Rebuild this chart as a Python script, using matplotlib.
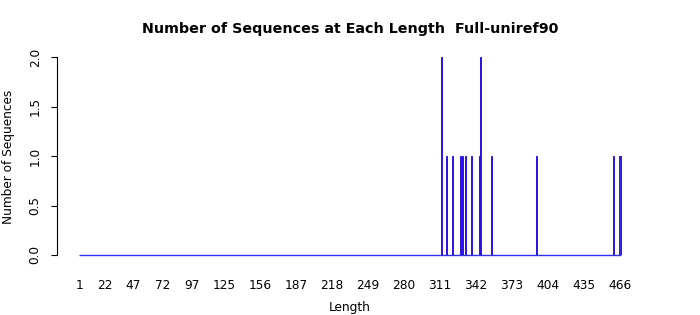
import matplotlib
matplotlib.use('Agg')
import matplotlib.pyplot as plt
import numpy as np

# sequence lengths observed and how many sequences have each length
lengths = [312, 317, 322, 329, 330, 333, 338, 345, 346, 355, 394, 460, 466]
counts = [2, 1, 1, 1, 1, 1, 1, 1, 2, 1, 1, 1, 1]
tick_labels = [1, 22, 47, 72, 97, 125, 156, 187, 218, 249, 280, 311, 342, 373, 404, 435, 466]
len_min, len_max = 1, 466

W, H = 700, 315
fig = plt.figure(figsize=(W / 100, H / 100), dpi=100)

# axes placed in pixels: y axis line at x=57, data 1..466 spans x=80..620
scale = (620 - 80) / (len_max - len_min)
ax_left, ax_right = 57, 643
ax = fig.add_axes([ax_left / W, (H - 255) / H, (ax_right - ax_left) / W, 198 / H])
ax.set_xlim(len_min - (80 - ax_left) / scale, len_max + (ax_right - 620) / scale)
ax.set_ylim(0, 2)

blue = '#2a12e8'
# zero-count bars of the R barplot show up as a blue baseline
ax.hlines(0, len_min - 0.5, len_max + 0.5, color='#3030f0', linewidth=1.0,
          zorder=1, clip_on=False)
ax.bar(lengths, counts, width=0.9, color='#3a2af0', edgecolor=blue,
       linewidth=0.7, zorder=2)

for s in ['top', 'right', 'bottom']:
    ax.spines[s].set_visible(False)
ax.spines['left'].set_bounds(0, 2)
ax.spines['left'].set_linewidth(0.8)

ax.set_yticks([0, 0.5, 1.0, 1.5, 2.0])
ax.set_yticklabels(['0.0', '0.5', '1.0', '1.5', '2.0'], rotation=90, va='center')
ax.tick_params(axis='y', length=4, width=0.8, pad=7, labelsize=8.75)

ax.set_xticks(tick_labels)
ax.set_xticklabels([str(t) for t in tick_labels])
ax.tick_params(axis='x', length=0, pad=17, labelsize=8.75)

fig.text(350 / W, 1 - 29 / H, 'Number of Sequences at Each Length  Full-uniref90',
         ha='center', va='center', fontsize=10.25, fontweight='bold')
fig.text(350 / W, 1 - 308 / H, 'Length', ha='center', va='center', fontsize=8.75)
fig.text(9 / W, 1 - 157 / H, 'Number of Sequences', ha='center', va='center',
         rotation=90, fontsize=8.75)

fig.savefig('out.png', dpi=100)
